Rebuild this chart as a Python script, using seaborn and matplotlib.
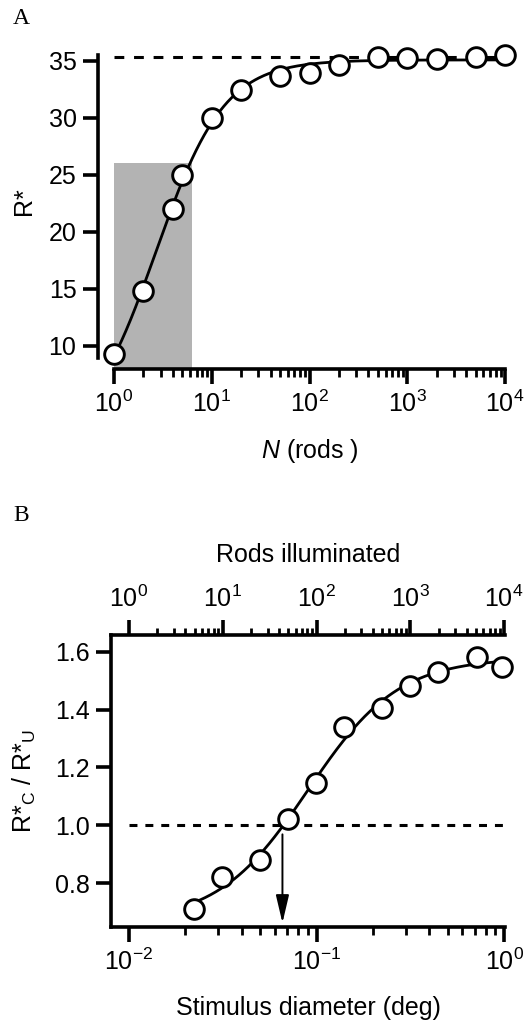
import numpy as np
import matplotlib
matplotlib.use("Agg")
import matplotlib.pyplot as plt
import seaborn as sns
from matplotlib.ticker import FixedLocator, NullFormatter, LogLocator

# ---------------- data ----------------
# Panel A
rods_n = [1, 2, 4, 5, 10, 20, 50, 100, 200, 500, 1000, 2000, 5000, 10000]
r_star = [9.27, 14.8, 22.04, 24.96, 29.98, 32.41, 33.70, 33.93, 34.66, 35.33, 35.28, 35.19, 35.33, 35.48]
r_star_plateau = 35.33
shade_n = [1, 6.3]
shade_top = 26.0
a_yticks = [10, 15, 20, 25, 30, 35]

# Panel B
diam_deg = [0.0223, 0.0315, 0.0498, 0.0702, 0.0994, 0.1407, 0.2227, 0.315, 0.446, 0.714, 0.975]
ratio_cu = [0.71, 0.823, 0.880, 1.023, 1.147, 1.340, 1.407, 1.482, 1.531, 1.583, 1.548]
ratio_ref = 1.0
arrow_diam = 0.0658
arrow_y = [0.969, 0.663]
b_yticks = [0.8, 1.0, 1.2, 1.4, 1.6]
diam_one_rod = 0.01  # deg; rods illuminated = (d / diam_one_rod)**2


def hill_fit(x, y):
    x = np.asarray(x, float)
    y = np.asarray(y, float)
    lx = np.log10(x)
    best = (np.inf, None)
    for lk in np.linspace(lx.min() - 1.5, lx.max() + 0.5, 141):
        for n in np.linspace(0.3, 4.0, 60):
            s = 1.0 / (1.0 + 10 ** (n * (lk - lx)))
            A = np.column_stack([np.ones_like(s), s])
            coef, *_ = np.linalg.lstsq(A, y, rcond=None)
            err = np.sum((A @ coef - y) ** 2)
            if err < best[0]:
                best = (err, (lk, n, coef))
    lk, n, coef = best[1]

    def f(xx):
        s = 1.0 / (1.0 + 10 ** (n * (lk - np.log10(xx))))
        return coef[0] + coef[1] * s
    return f


# ---------------- style ----------------
sns.set_theme(style="ticks")
plt.rcParams["font.family"] = ["Liberation Sans", "DejaVu Sans"]
plt.rcParams["mathtext.fontset"] = "custom"
plt.rcParams["mathtext.rm"] = "Liberation Sans"
plt.rcParams["mathtext.it"] = "Liberation Sans:italic"
plt.rcParams["mathtext.bf"] = "Liberation Sans:bold"
plt.rcParams["mathtext.default"] = "regular"
plt.rcParams["axes.unicode_minus"] = False
for key in ["text.color", "axes.labelcolor", "xtick.color", "ytick.color",
            "xtick.labelcolor", "ytick.labelcolor", "axes.edgecolor"]:
    plt.rcParams[key] = "black"

FS = 18
SPINE_LW = 2.6
LINE_LW = 2.0
MARKER_S = 200

W, H = 530, 1026
fig = plt.figure(figsize=(W / 100, H / 100), dpi=100)


def px_axes(left, top, right, bottom):
    return fig.add_axes([left / W, 1 - bottom / H, (right - left) / W, (bottom - top) / H])


def style_ticks(ax):
    ax.tick_params(axis="both", which="major", direction="out", length=10.5, width=SPINE_LW,
                   labelsize=FS, pad=5, color="black", labelcolor="black")
    ax.tick_params(axis="both", which="minor", direction="out", length=5.5, width=2.0,
                   color="black")


# ================= Panel A =================
axA = px_axes(114, 49.5, 505, 369)
axA.set_xscale("log")
axA.set_xlim(1, 1e4)
axA.set_ylim(7.96, 36.0)

axA.fill_between(shade_n, 7.96, shade_top, color="#b3b3b3", lw=0, zorder=0)
axA.axhline(r_star_plateau, color="black", lw=2.2, ls=(0, (3.2, 3.2)), zorder=1)

fA = hill_fit(rods_n, r_star)
xa = np.logspace(0, 4, 400)
sns.lineplot(x=xa, y=fA(xa), ax=axA, color="black", lw=LINE_LW, zorder=2)
sns.scatterplot(x=rods_n, y=r_star, ax=axA, s=MARKER_S, color="white", edgecolor="black",
                linewidth=2.1, zorder=4, clip_on=False)

for side in ["top", "right"]:
    axA.spines[side].set_visible(False)
axA.spines["left"].set_position(("outward", 11.5))
axA.spines["left"].set_bounds(8.9, 35.5)
for side in ["left", "bottom"]:
    axA.spines[side].set_linewidth(SPINE_LW)
    axA.spines[side].set_color("black")
axA.set_yticks(a_yticks)
axA.xaxis.set_major_locator(FixedLocator([1, 10, 100, 1000, 10000]))
axA.xaxis.set_minor_locator(LogLocator(base=10, subs=np.arange(2, 10), numticks=20))
axA.xaxis.set_minor_formatter(NullFormatter())
style_ticks(axA)
axA.grid(False)

axA.set_xlabel(r"$\mathit{N}$ (rods )", fontsize=FS, va="center")
axA.xaxis.set_label_coords(0.5, -(451 - 369) / (369 - 49.5))
axA.set_ylabel("R*", fontsize=FS, va="center")
axA.yaxis.set_label_coords((24 - 114) / 391, (369 - 201) / (369 - 49.5))

fig.text(13 / W, 1 - 24 / H, "A", family=["Liberation Serif", "DejaVu Serif"], fontsize=17,
         va="baseline", ha="left")

# ================= Panel B =================
axB = px_axes(111, 635, 505, 927)
axB.set_xscale("log")
axB.set_xlim(10 ** -2.096, 10 ** 0.005)
axB.set_ylim(0.649, 1.6576)

axB.plot([diam_one_rod, 1.0], [ratio_ref, ratio_ref], color="black", lw=2.2,
         ls=(0, (2.6, 2.6)), zorder=1)

fB = hill_fit(diam_deg, ratio_cu)
xb = np.logspace(np.log10(diam_deg[0]), np.log10(diam_deg[-1]), 400)
sns.lineplot(x=xb, y=fB(xb), ax=axB, color="black", lw=LINE_LW, zorder=2)
sns.scatterplot(x=diam_deg, y=ratio_cu, ax=axB, s=MARKER_S, color="white", edgecolor="black",
                linewidth=2.1, zorder=4, clip_on=False)

axB.annotate("", xy=(arrow_diam, arrow_y[1]), xytext=(arrow_diam, arrow_y[0]),
             arrowprops=dict(arrowstyle="-|>,head_length=1.7,head_width=0.4",
                             mutation_scale=10, lw=1.4, color="black",
                             shrinkA=0, shrinkB=0), zorder=3)

axB.spines["right"].set_visible(False)
axB.spines["top"].set_visible(False)
for side in ["left", "bottom"]:
    axB.spines[side].set_linewidth(SPINE_LW)
    axB.spines[side].set_color("black")
axB.set_yticks(b_yticks)
axB.set_yticklabels([f"{v:.1f}" for v in b_yticks])
axB.xaxis.set_major_locator(FixedLocator([0.01, 0.1, 1.0]))
minor_b = [m * 10.0 ** e for e in (-2, -1) for m in range(2, 10)]
axB.xaxis.set_minor_locator(FixedLocator(minor_b))
axB.xaxis.set_minor_formatter(NullFormatter())
style_ticks(axB)
axB.grid(False)

axB.set_xlabel("Stimulus diameter (deg)", fontsize=FS, va="center")
axB.xaxis.set_label_coords(0.5, -(1008 - 927) / 292)
axB.set_ylabel(r"R*$_{C}$ / R*$_{U}$", fontsize=FS, va="center")
axB.yaxis.set_label_coords((24 - 111) / 394, 0.5)

sec = axB.secondary_xaxis("top", functions=(lambda d: (np.asarray(d) / diam_one_rod) ** 2,
                                             lambda r: diam_one_rod * np.sqrt(np.abs(r))))
sec.xaxis.set_major_locator(FixedLocator([1, 10, 100, 1000, 10000]))
minor_top = [m * 10.0 ** e for e in range(0, 4) for m in range(2, 10)]
sec.xaxis.set_minor_locator(FixedLocator(minor_top))
sec.xaxis.set_minor_formatter(NullFormatter())
sec.spines["top"].set_linewidth(SPINE_LW)
sec.spines["top"].set_color("black")
sec.tick_params(axis="x", which="major", direction="out", length=10.5, width=SPINE_LW,
                labelsize=FS, pad=6, color="black", labelcolor="black")
sec.tick_params(axis="x", which="minor", direction="out", length=5.0, width=2.0, color="black")
sec.set_xlabel("Rods illuminated", fontsize=FS, va="center", color="black")
sec.xaxis.set_label_coords(0.5, 1 + (635 - 555) / 292, transform=axB.transAxes)

fig.text(13 / W, 1 - 521 / H, "B", family=["Liberation Serif", "DejaVu Serif"], fontsize=17,
         va="baseline", ha="left")

fig.savefig("out.png", dpi=100)
